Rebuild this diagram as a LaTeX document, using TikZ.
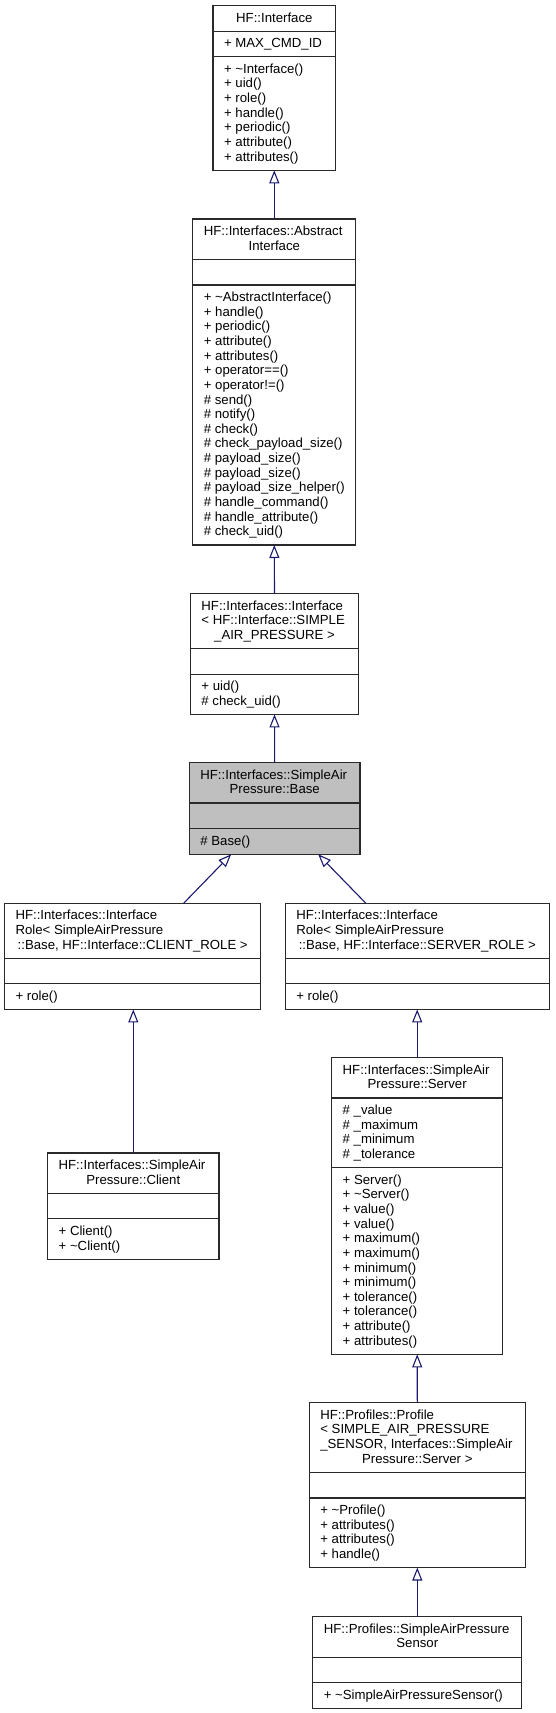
\documentclass[tikz,border=0pt]{standalone}
\usepackage{fontspec}
\setmainfont{Liberation Sans}
\usetikzlibrary{arrows.meta,calc}
\definecolor{edgeblue}{HTML}{191970}
\definecolor{basegray}{HTML}{BFBFBF}
\definecolor{boxline}{HTML}{2A2A2A}
\tikzset{
  classbox/.style={draw=boxline, line width=1.2pt, fill=white, inner sep=0pt, outer sep=0pt, anchor=north, rectangle},
  sepline/.style={draw=boxline, line width=1.2pt},
  txt/.style={inner sep=0pt, outer sep=0pt, font=\fontsize{13.2}{14.65}\selectfont},
  inh/.style={draw=edgeblue, line width=1.1pt, -{Triangle[open, length=13pt, width=10pt]}},
}
% box: name, cx, top, width, fill, n1, n2, n3
\newcommand{\umlclass}[8]{%
  \pgfmathsetmacro{\hA}{14.65*#6+11}%
  \pgfmathsetmacro{\hB}{14.65*#7+11}%
  \pgfmathsetmacro{\hC}{14.65*#8+11}%
  \pgfmathsetmacro{\hT}{\hA+\hB+\hC}%
  \node[classbox, fill=#5, minimum width=#4pt, minimum height=\hT pt] (#1) at (#2,#3) {};
  \coordinate (#1-sa) at ($(#1.north west)+(0,\hA)$);
  \coordinate (#1-sb) at ($(#1.north west)+(0,\hA+\hB)$);
  \draw[sepline] (#1-sa) -- (#1-sa -| #1.east);
  \draw[sepline] (#1-sb) -- (#1-sb -| #1.east);
}
% left aligned lines: start coordinate, name prefix, list
\newcommand{\leftlines}[3]{%
  \foreach \itm [count=\idx from 0] in {#3} {
    \node[txt, anchor=base west] (#2\idx) at ($(#1)+(11,16.5+14.65*\idx)$) {\itm};
  }%
}
% centered last title line: box name, index of line, text
\newcommand{\titlelast}[3]{%
  \node[txt, anchor=base] (#1-tl) at ($(#1.north)+(0,16.5+14.65*#2)$) {#3};
}
\begin{document}
\begin{tikzpicture}[x=1pt, y=-1pt]
\useasboundingbox (0,0) rectangle (555,1713);

% HF::Interface
\umlclass{iface}{274.3}{5.5}{122.5}{white}{1}{1}{7}
\titlelast{iface}{0}{HF::Interface}
\leftlines{iface-sa}{iface-a}{{+ MAX\_CMD\_ID}}
\leftlines{iface-sb}{iface-m}{{+ \textasciitilde Interface()},{+ uid()},{+ role()},{+ handle()},{+ periodic()},{+ attribute()},{+ attributes()}}

% AbstractInterface
\umlclass{absint}{274.3}{219}{162.9}{white}{2}{1}{17}
\leftlines{absint.north west}{absint-t}{{HF::Interfaces::Abstract}}
\titlelast{absint}{1}{Interface}
\leftlines{absint-sb}{absint-m}{{+ \textasciitilde AbstractInterface()},{+ handle()},{+ periodic()},{+ attribute()},{+ attributes()},{+ operator==()},{+ operator!=()},{\# send()},{\# notify()},{\# check()},{\# check\_payload\_size()},{\# payload\_size()},{\# payload\_size()},{\# payload\_size\_helper()},{\# handle\_command()},{\# handle\_attribute()},{\# check\_uid()}}

% Interface< SIMPLE_AIR_PRESSURE >
\umlclass{isimple}{274.5}{593.5}{168.1}{white}{3}{1}{2}
\leftlines{isimple.north west}{isimple-t}{{HF::Interfaces::Interface},{< HF::Interface::SIMPLE}}
\titlelast{isimple}{2}{\_AIR\_PRESSURE >}
\leftlines{isimple-sb}{isimple-m}{{+ uid()},{\# check\_uid()}}

% Base
\umlclass{base}{274.7}{762.7}{170.6}{basegray}{2}{1}{1}
\leftlines{base.north west}{base-t}{{HF::Interfaces::SimpleAir}}
\titlelast{base}{1}{Pressure::Base}
\leftlines{base-sb}{base-m}{{\# Base()}}

% Client role
\umlclass{crole}{132.7}{903.2}{256.3}{white}{3}{1}{1}
\leftlines{crole.north west}{crole-t}{{HF::Interfaces::Interface},{Role< SimpleAirPressure}}
\titlelast{crole}{2}{::Base, HF::Interface::CLIENT\_ROLE >}
\leftlines{crole-sb}{crole-m}{{+ role()}}

% Server role
\umlclass{srole}{417.3}{903.2}{264.1}{white}{3}{1}{1}
\leftlines{srole.north west}{srole-t}{{HF::Interfaces::Interface},{Role< SimpleAirPressure}}
\titlelast{srole}{2}{::Base, HF::Interface::SERVER\_ROLE >}
\leftlines{srole-sb}{srole-m}{{+ role()}}

% Client
\umlclass{client}{133.3}{1152.9}{171.3}{white}{2}{1}{2}
\leftlines{client.north west}{client-t}{{HF::Interfaces::SimpleAir}}
\titlelast{client}{1}{Pressure::Client}
\leftlines{client-sb}{client-m}{{+ Client()},{+ \textasciitilde Client()}}

% Server
\umlclass{server}{417.2}{1057.7}{171}{white}{2}{4}{12}
\leftlines{server.north west}{server-t}{{HF::Interfaces::SimpleAir}}
\titlelast{server}{1}{Pressure::Server}
\leftlines{server-sa}{server-a}{{\# \_value},{\# \_maximum},{\# \_minimum},{\# \_tolerance}}
\leftlines{server-sb}{server-m}{{+ Server()},{+ \textasciitilde Server()},{+ value()},{+ value()},{+ maximum()},{+ maximum()},{+ minimum()},{+ minimum()},{+ tolerance()},{+ tolerance()},{+ attribute()},{+ attributes()}}

% Profile
\umlclass{profile}{417.3}{1402.7}{215.9}{white}{4}{1}{4}
\leftlines{profile.north west}{profile-t}{{HF::Profiles::Profile},{< SIMPLE\_AIR\_PRESSURE},{\_SENSOR, Interfaces::SimpleAir}}
\titlelast{profile}{3}{Pressure::Server >}
\leftlines{profile-sb}{profile-m}{{+ \textasciitilde Profile()},{+ attributes()},{+ attributes()},{+ handle()}}

% Sensor
\umlclass{sensor}{417.3}{1616.8}{208.9}{white}{2}{1}{1}
\leftlines{sensor.north west}{sensor-t}{{HF::Profiles::SimpleAirPressure}}
\titlelast{sensor}{1}{Sensor}
\leftlines{sensor-sb}{sensor-m}{{+ \textasciitilde SimpleAirPressureSensor()}}

% inheritance edges
\draw[inh] (absint.north) -- (iface.south);
\draw[inh] (isimple.north) -- (absint.south);
\draw[inh] (base.north) -- (isimple.south);
\draw[inh] ($(crole.north)+(51,0)$) -- ($(base.south)+(-43.5,0)$);
\draw[inh] ($(srole.north)+(-51.5,0)$) -- ($(base.south)+(43.5,0)$);
\draw[inh] (client.north) -- (client.north |- crole.south);
\draw[inh] (server.north) -- (server.north |- srole.south);
\draw[inh] (profile.north) -- (server.south);
\draw[inh] (sensor.north) -- (profile.south);
\end{tikzpicture}
\end{document}
